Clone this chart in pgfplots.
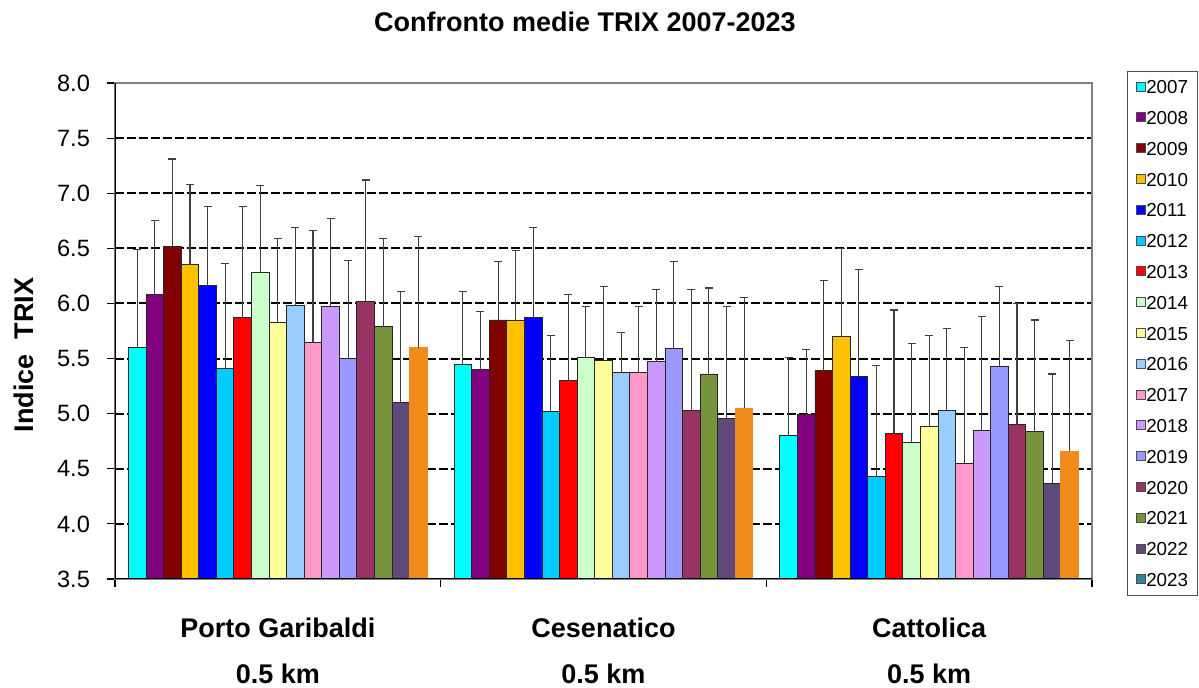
\documentclass[border=0pt]{standalone}
\usepackage{fontspec}
\setmainfont{Liberation Sans}
\usepackage{pgfplots}
\pgfplotsset{compat=1.18}
\definecolor{c07}{HTML}{00FFFF}
\definecolor{c08}{HTML}{800080}
\definecolor{c09}{HTML}{800000}
\definecolor{c10}{HTML}{FFC000}
\definecolor{c11}{HTML}{0000FF}
\definecolor{c12}{HTML}{00CCFF}
\definecolor{c13}{HTML}{FF0000}
\definecolor{c14}{HTML}{CCFFCC}
\definecolor{c15}{HTML}{FFFF99}
\definecolor{c16}{HTML}{99CCFF}
\definecolor{c17}{HTML}{FF99CC}
\definecolor{c18}{HTML}{CC99FF}
\definecolor{c19}{HTML}{9999FF}
\definecolor{c20}{HTML}{993366}
\definecolor{c21}{HTML}{77933C}
\definecolor{c22}{HTML}{604A7B}
\definecolor{c23}{HTML}{F08C1C}
\definecolor{c23leg}{HTML}{31859C}
\begin{document}
\begin{tikzpicture}
\useasboundingbox (-57.5pt,-54.5pt) rectangle (542pt,289.5pt);
\begin{axis}[
  at={(0,0)}, anchor=south west,
  scale only axis, width=488.5pt, height=248pt,
  xmin=-0.5, xmax=2.5, ymin=3.5, ymax=8,
  ybar=0pt, bar width=0.05395,
  axis line style={draw=gray, line width=0.6pt},
  xtick={0,1,2},
  xticklabels={Porto Garibaldi, Cesenatico, Cattolica},
  extra x ticks={0,1,2},
  extra x tick labels={0.5 km,0.5 km,0.5 km},
  extra x tick style={major tick length=0pt, tick label style={yshift=-27pt}},
  minor xtick={-0.5,0.5,1.5,2.5},
  ytick={3.5,4,...,8},
  yticklabel style={/pgf/number format/fixed, /pgf/number format/fixed zerofill, /pgf/number format/precision=1, xshift=-5pt},
  /pgf/number format/assume math mode=true,
  tick label style={font=\fontsize{11.8}{13}\selectfont},
  xticklabel style={font=\bfseries\fontsize{13.5}{16}\selectfont, anchor=base, yshift=-25.5pt},
  xtick pos=left, ytick pos=left, tick align=outside,
  major tick length=4pt, minor tick length=4pt,
  tick style={black, line width=0.6pt},
  major x tick style={draw=none},
  ymajorgrids,
  major grid style={black, dash pattern=on 4.5pt off 1.5pt, line width=1pt},
  title={Confronto medie TRIX 2007-2023},
  title style={at={(axis description cs:0.481,1.0787)}, anchor=base, font=\bfseries\fontsize{13.5}{16}\selectfont},
  ylabel={Indice\ \ TRIX},
  ylabel style={at={(axis description cs:-0.0839,0.4516)}, anchor=base, font=\bfseries\fontsize{13.5}{16}\selectfont},
  legend style={at={(axis description cs:1.0358,1.0242)}, anchor=north west,
    draw=black!70, line width=0.5pt, font=\fontsize{9.4}{11}\selectfont,
    inner xsep=4.5pt, inner ysep=4.5pt, row sep=8.8pt,
    nodes={inner sep=0pt, text height=6.6pt, text depth=0pt}},
  legend cell align=left,
  legend image code/.code={\draw[#1, draw=black!70, line width=0.4pt] (0pt,-2pt) rectangle (4.5pt,2.5pt);},
  error bars/y dir=plus, error bars/y explicit,
  error bars/error mark=-,
  error bars/error bar style={black!75, line width=0.55pt},
  error bars/error mark options={rotate=90, black!75, mark size=2pt, line width=0.55pt},
  every axis plot/.append style={draw=black!85, line width=0.45pt},
]
\addplot[fill=c07, bar shift=-0.4316] coordinates {(0,5.60) +- (0,0.89) (1,5.45) +- (0,0.66) (2,4.80) +- (0,0.71)};
\addplot[fill=c08, bar shift=-0.3777] coordinates {(0,6.08) +- (0,0.67) (1,5.40) +- (0,0.53) (2,4.99) +- (0,0.59)};
\addplot[fill=c09, bar shift=-0.3237] coordinates {(0,6.52) +- (0,0.79) (1,5.85) +- (0,0.53) (2,5.39) +- (0,0.82)};
\addplot[fill=c10, bar shift=-0.2698] coordinates {(0,6.35) +- (0,0.73) (1,5.85) +- (0,0.63) (2,5.70) +- (0,0.80)};
\addplot[fill=c11, bar shift=-0.2158] coordinates {(0,6.16) +- (0,0.72) (1,5.87) +- (0,0.82) (2,5.34) +- (0,0.97)};
\addplot[fill=c12, bar shift=-0.1619] coordinates {(0,5.41) +- (0,0.95) (1,5.02) +- (0,0.69) (2,4.43) +- (0,1.01)};
\addplot[fill=c13, bar shift=-0.1079] coordinates {(0,5.87) +- (0,1.01) (1,5.30) +- (0,0.78) (2,4.82) +- (0,1.12)};
\addplot[fill=c14, bar shift=-0.0540] coordinates {(0,6.28) +- (0,0.79) (1,5.51) +- (0,0.46) (2,4.74) +- (0,0.90)};
\addplot[fill=c15, bar shift=0] coordinates {(0,5.83) +- (0,0.76) (1,5.48) +- (0,0.67) (2,4.88) +- (0,0.83)};
\addplot[fill=c16, bar shift=0.0540] coordinates {(0,5.98) +- (0,0.71) (1,5.37) +- (0,0.37) (2,5.03) +- (0,0.74)};
\addplot[fill=c17, bar shift=0.1079] coordinates {(0,5.65) +- (0,1.01) (1,5.37) +- (0,0.60) (2,4.55) +- (0,1.05)};
\addplot[fill=c18, bar shift=0.1619] coordinates {(0,5.97) +- (0,0.80) (1,5.47) +- (0,0.66) (2,4.85) +- (0,1.03)};
\addplot[fill=c19, bar shift=0.2158] coordinates {(0,5.50) +- (0,0.89) (1,5.59) +- (0,0.79) (2,5.43) +- (0,0.72)};
\addplot[fill=c20, bar shift=0.2698] coordinates {(0,6.02) +- (0,1.10) (1,5.03) +- (0,1.10) (2,4.90) +- (0,1.10)};
\addplot[fill=c21, bar shift=0.3237] coordinates {(0,5.79) +- (0,0.80) (1,5.36) +- (0,0.78) (2,4.84) +- (0,1.01)};
\addplot[fill=c22, bar shift=0.3777] coordinates {(0,5.10) +- (0,1.01) (1,4.96) +- (0,1.01) (2,4.37) +- (0,0.99)};
\addplot[fill=c23, draw=c23, bar shift=0.4316, legend image post style={fill=c23leg}] coordinates {(0,5.60) +- (0,1.01) (1,5.05) +- (0,1.00) (2,4.66) +- (0,1.00)};
\legend{2007,2008,2009,2010,2011,2012,2013,2014,2015,2016,2017,2018,2019,2020,2021,2022,2023}
\draw[black, line width=0.7pt] (rel axis cs:0,1) -- (rel axis cs:0,0) -- (rel axis cs:1,0);
\end{axis}
\end{tikzpicture}
\end{document}
